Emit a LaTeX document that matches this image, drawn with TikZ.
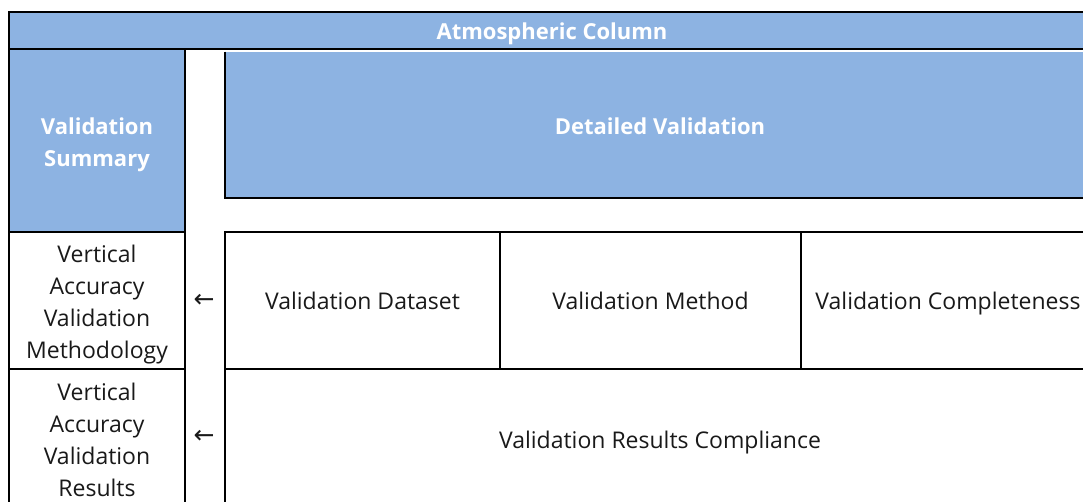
\documentclass[tikz,border=0pt]{standalone}
\usepackage{fontspec}
\setmainfont{Open Sans}
\newfontfamily\arrowfont{DejaVu Sans}
\definecolor{hdrblue}{RGB}{141,179,226}
\begin{document}
\begin{tikzpicture}[x=1pt,y=-1pt,
  cell/.style={draw=black,line width=2pt,inner sep=0pt,outer sep=0pt,anchor=north west,align=center,text=black!90,font=\fontsize{23}{32}\selectfont,text height=19.4pt,text depth=0.6pt},
  hcell/.style={cell,fill=hdrblue,text=white,font=\fontsize{22}{32}\selectfont\bfseries},
  lines/.style={text height={20pt+(#1-1)*32pt},text depth=0.6pt},
  arr/.style={inner sep=0pt,text=black!90,font=\arrowfont\fontsize{25}{28}\selectfont}]
\useasboundingbox (0,0) rectangle (1083,501);
\clip (0,0) rectangle (1083,501);
% header
\node[hcell,minimum width=1086pt,minimum height=37pt] (atm) at (9,12) {Atmospheric Column};
\node[hcell,lines=2,minimum width=176pt,minimum height=183pt] (sum) at (9,49) {Validation\\Summary};
\node[hcell,draw=none,minimum width=870pt,minimum height=146.5pt] (det) at (225,51.5) {Detailed Validation};
\draw[line width=2pt] (det.north west) -- (det.south west) -- (det.south east);
% left column
\node[cell,lines=4,minimum width=176pt,minimum height=137pt] (m1) at (9,232) {Vertical\\Accuracy\\Validation\\Methodology};
\node[cell,lines=4,minimum width=176pt,minimum height=140pt] (m2) at (9,369) {Vertical\\Accuracy\\Validation\\Results};
% arrows
\node[arr] (a1) at (204,301) {←};
\node[arr] (a2) at (204,437) {←};
% detail row 1
\node[cell,minimum width=275pt,minimum height=137pt] (ds) at (225,232) {Validation Dataset};
\node[cell,minimum width=301pt,minimum height=137pt] (vm) at (500,232) {Validation Method};
\node[cell,minimum width=294pt,minimum height=137pt] (vc) at (801,232) {Validation Completeness};
% detail row 2
\node[cell,minimum width=870pt,minimum height=140pt] (vr) at (225,369) {Validation Results Compliance};
\end{tikzpicture}
\end{document}
